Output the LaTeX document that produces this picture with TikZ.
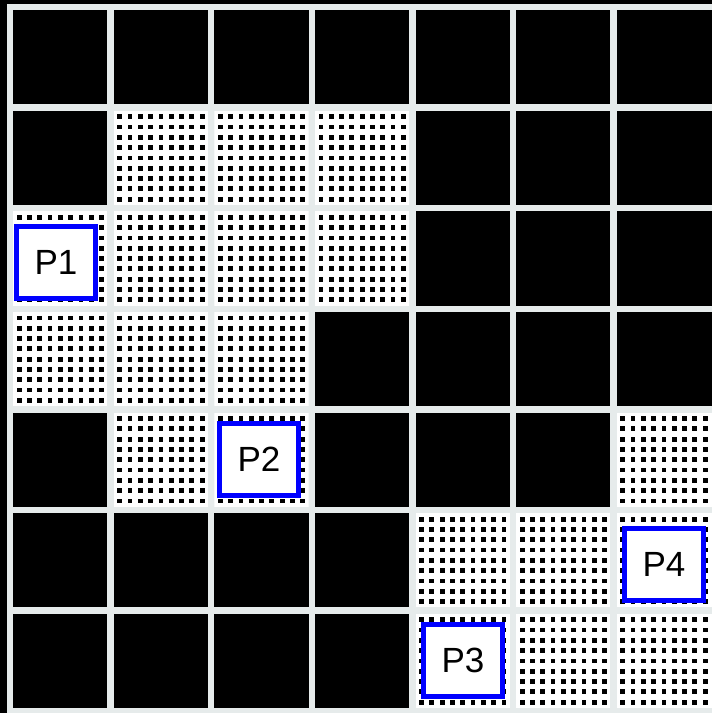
\documentclass[tikz,border=0pt]{standalone}
\usepackage{fontspec}
\setmainfont{Liberation Sans}
\definecolor{gridgray}{RGB}{230,235,235}
\definecolor{pblue}{RGB}{0,0,255}
\begin{document}
\begin{tikzpicture}[x=1pt,y=-1pt,
  blackcell/.style={fill=black},
  dotcell/.style={fill=white},
  dotsq/.style={fill=black},
  pbox/.style={draw=pblue, line width=5pt, fill=white, minimum width=79pt, minimum height=72pt, inner sep=0pt, font=\fontsize{35}{40}\selectfont}]
\useasboundingbox (0,0) rectangle (712,713);
\clip (0,0) rectangle (712,713);
\fill[black] (0,0) rectangle (712,713);
\fill[gridgray] (7,4) rectangle (720,713);
% dotted cells
\foreach \r/\c in {1/1,1/2,1/3,2/0,2/1,2/2,2/3,3/0,3/1,3/2,4/1,4/2,4/6,5/4,5/5,5/6,6/4,6/5,6/6}{
  \pgfmathsetmacro{\cx}{13.2+100.6*\c}
  \pgfmathsetmacro{\cy}{10.2+100.6*\r}
  \pgfmathsetmacro{\cw}{\c==6 ? 110 : 94.2}
  \begin{scope}
    \clip (\cx,\cy) rectangle ++(\cw,94.2);
    \fill[dotcell] (\cx,\cy) rectangle ++(\cw,94.2);
    \begin{scope}[shift={(\cx,\cy)}]
      \foreach \i in {0,...,9}{
        \foreach \j in {0,...,8}{
          \fill[dotsq] ({3.5+10.3*\i},{3.5+10.3*\j}) rectangle ++(4.8,4.8);
        }
      }
    \end{scope}
  \end{scope}
}
% black cells
\foreach \r/\c in {0/0,0/1,0/2,0/3,0/4,0/5,0/6,1/0,1/4,1/5,1/6,2/4,2/5,2/6,3/3,3/4,3/5,3/6,4/0,4/3,4/4,4/5,5/0,5/1,5/2,5/3,6/0,6/1,6/2,6/3}{
  \pgfmathsetmacro{\cx}{13.2+100.6*\c}
  \pgfmathsetmacro{\cy}{10.2+100.6*\r}
  \pgfmathsetmacro{\cw}{\c==6 ? 110 : 94.2}
  \fill[blackcell] (\cx,\cy) rectangle ++(\cw,94.2);
}
% labelled boxes
\node[pbox] (p1) at (56,262) {P1};
\node[pbox] (p2) at (259,459) {P2};
\node[pbox] (p3) at (463,660) {P3};
\node[pbox] (p4) at (664,564) {P4};
\end{tikzpicture}
\end{document}
